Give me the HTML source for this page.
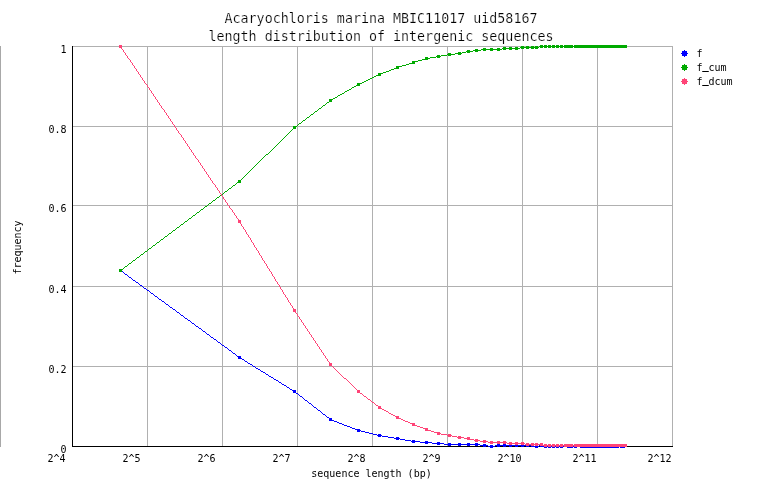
<!DOCTYPE html>
<html><head><meta charset="utf-8"><title>length distribution of intergenic sequences</title>
<style>html,body{margin:0;padding:0;background:#fff;}body{width:762px;height:498px;position:relative;overflow:hidden;}</style>
</head><body>
<svg width="762" height="498" viewBox="0 0 762 498" style="position:absolute;left:0;top:0;will-change:transform">
<rect width="762" height="498" fill="#fff"/>
<rect x="0" y="46" width="1" height="401" fill="#a8a8a8" shape-rendering="crispEdges"/>
<g fill="#b0b0b0" shape-rendering="crispEdges"><rect x="147" y="46" width="1" height="401"/><rect x="222" y="46" width="1" height="401"/><rect x="297" y="46" width="1" height="401"/><rect x="372" y="46" width="1" height="401"/><rect x="447" y="46" width="1" height="401"/><rect x="522" y="46" width="1" height="401"/><rect x="597" y="46" width="1" height="401"/><rect x="672" y="46" width="1" height="401"/><rect x="72" y="46" width="601" height="1"/><rect x="72" y="126" width="601" height="1"/><rect x="72" y="205" width="601" height="1"/><rect x="72" y="286" width="601" height="1"/><rect x="72" y="366" width="601" height="1"/></g>
<g fill="#000" shape-rendering="crispEdges"><rect x="72" y="46" width="1" height="401"/><rect x="72" y="446" width="601" height="1"/></g>
<path d="M119 269h3v2h-3zM119 271h4v1h-4zM123 272h1v1h-1zM124 273h1v1h-1zM125 274h2v1h-2zM127 275h1v1h-1zM128 276h1v1h-1zM129 277h2v1h-2zM131 278h1v1h-1zM132 279h1v1h-1zM133 280h2v1h-2zM135 281h1v1h-1zM136 282h2v1h-2zM138 283h1v1h-1zM139 284h1v1h-1zM140 285h2v1h-2zM142 286h1v1h-1zM143 287h1v1h-1zM144 288h2v1h-2zM146 289h1v1h-1zM147 290h2v1h-2zM149 291h1v1h-1zM150 292h1v1h-1zM151 293h2v1h-2zM153 294h1v1h-1zM154 295h1v1h-1zM155 296h2v1h-2zM157 297h1v1h-1zM158 298h1v1h-1zM159 299h2v1h-2zM161 300h1v1h-1zM162 301h2v1h-2zM164 302h1v1h-1zM165 303h1v1h-1zM166 304h2v1h-2zM168 305h1v1h-1zM169 306h1v1h-1zM170 307h2v1h-2zM172 308h1v1h-1zM173 309h2v1h-2zM175 310h1v1h-1zM176 311h1v1h-1zM177 312h2v1h-2zM179 313h1v1h-1zM180 314h1v1h-1zM181 315h2v1h-2zM183 316h1v1h-1zM184 317h1v1h-1zM185 318h2v1h-2zM187 319h1v1h-1zM188 320h2v1h-2zM190 321h1v1h-1zM191 322h1v1h-1zM192 323h2v1h-2zM194 324h1v1h-1zM195 325h1v1h-1zM196 326h2v1h-2zM198 327h1v1h-1zM199 328h2v1h-2zM201 329h1v1h-1zM202 330h1v1h-1zM203 331h2v1h-2zM205 332h1v1h-1zM206 333h1v1h-1zM207 334h2v1h-2zM209 335h1v1h-1zM210 336h1v1h-1zM211 337h2v1h-2zM213 338h1v1h-1zM214 339h2v1h-2zM216 340h1v1h-1zM217 341h1v1h-1zM218 342h2v1h-2zM220 343h1v1h-1zM221 344h1v1h-1zM222 345h2v1h-2zM224 346h1v1h-1zM225 347h2v1h-2zM227 348h1v1h-1zM228 349h1v1h-1zM229 350h2v1h-2zM231 351h1v1h-1zM232 352h1v1h-1zM233 353h2v1h-2zM235 354h1v1h-1zM236 355h1v1h-1zM237 356h4v1h-4zM238 357h3v1h-3zM238 358h4v1h-4zM242 359h2v1h-2zM244 360h1v1h-1zM245 361h2v1h-2zM247 362h1v1h-1zM248 363h2v1h-2zM250 364h2v1h-2zM252 365h1v1h-1zM253 366h2v1h-2zM255 367h1v1h-1zM256 368h2v1h-2zM258 369h2v1h-2zM260 370h1v1h-1zM261 371h2v1h-2zM263 372h2v1h-2zM265 373h1v1h-1zM266 374h2v1h-2zM268 375h1v1h-1zM269 376h2v1h-2zM271 377h2v1h-2zM273 378h1v1h-1zM274 379h2v1h-2zM276 380h2v1h-2zM278 381h1v1h-1zM279 382h2v1h-2zM281 383h1v1h-1zM282 384h2v1h-2zM284 385h2v1h-2zM286 386h1v1h-1zM287 387h2v1h-2zM289 388h1v1h-1zM290 389h2v1h-2zM292 390h4v1h-4zM293 391h3v2h-3zM296 393h2v1h-2zM298 394h1v1h-1zM299 395h1v1h-1zM300 396h2v1h-2zM302 397h1v1h-1zM303 398h1v1h-1zM304 399h1v1h-1zM305 400h2v1h-2zM307 401h1v1h-1zM308 402h1v1h-1zM309 403h2v1h-2zM311 404h1v1h-1zM312 405h1v1h-1zM313 406h1v1h-1zM314 407h2v1h-2zM316 408h1v1h-1zM317 409h1v1h-1zM318 410h2v1h-2zM320 411h1v1h-1zM321 412h1v1h-1zM322 413h1v1h-1zM323 414h2v1h-2zM325 415h1v1h-1zM326 416h1v1h-1zM327 417h2v1h-2zM329 418h3v2h-3zM329 420h5v1h-5zM334 421h3v1h-3zM337 422h2v1h-2zM339 423h3v1h-3zM342 424h2v1h-2zM344 425h3v1h-3zM347 426h3v1h-3zM350 427h2v1h-2zM352 428h3v1h-3zM355 429h5v1h-5zM357 431h3v1h-3zM357 430h4v1h-4zM361 431h4v1h-4zM365 432h4v1h-4zM369 433h4v1h-4zM373 434h4v1h-4zM377 435h5v1h-5zM378 434h3v1h-3zM378 436h3v1h-3zM382 436h6v1h-6zM388 437h6v1h-6zM394 438h6v1h-6zM396 437h3v1h-3zM396 439h3v1h-3zM400 439h5v1h-5zM405 440h6v1h-6zM411 441h9v1h-9zM412 440h3v1h-3zM412 442h3v1h-3zM420 442h12v1h-12zM425 441h3v1h-3zM425 443h3v1h-3zM432 443h12v1h-12zM437 442h3v1h-3zM437 444h3v1h-3zM444 444h36v1h-36zM448 443h3v1h-3zM448 445h3v1h-3zM458 443h3v1h-3zM458 445h3v1h-3zM467 443h3v1h-3zM467 445h3v1h-3zM475 443h3v1h-3zM475 445h3v1h-3zM480 445h8v1h-8zM483 444h3v1h-3zM483 446h3v1h-3zM488 446h7v1h-7zM490 445h3v1h-3zM490 447h3v1h-3zM495 445h39v1h-39zM497 444h3v1h-3zM497 446h3v1h-3zM503 444h3v1h-3zM503 446h3v1h-3zM509 444h3v1h-3zM509 446h3v1h-3zM515 444h3v1h-3zM515 446h3v1h-3zM521 444h3v1h-3zM521 446h3v1h-3zM526 444h3v1h-3zM526 446h3v1h-3zM531 444h3v1h-3zM531 446h8v1h-8zM535 445h3v1h-3zM535 447h3v1h-3zM539 445h4v1h-4zM540 444h3v1h-3zM540 446h87v1h-87zM544 445h3v1h-3zM544 447h3v1h-3zM548 445h3v1h-3zM548 447h3v1h-3zM552 445h3v1h-3zM552 447h3v1h-3zM556 445h3v1h-3zM556 447h3v1h-3zM560 445h3v1h-3zM560 447h3v1h-3zM564 444h3v1h-3zM564 445h9v1h-9zM567 447h6v1h-6zM574 447h3v1h-3zM574 445h53v1h-53zM577 444h3v1h-3zM580 447h39v1h-39zM618 444h3v1h-3zM620 447h5v1h-5zM624 444h3v1h-3z" fill="#0000ff" shape-rendering="crispEdges"/>

<path d="M119 270h3v2h-3zM119 269h4v1h-4zM123 268h1v1h-1zM124 267h1v1h-1zM125 266h2v1h-2zM127 265h1v1h-1zM128 264h1v1h-1zM129 263h2v1h-2zM131 262h1v1h-1zM132 261h1v1h-1zM133 260h2v1h-2zM135 259h1v1h-1zM136 258h1v1h-1zM137 257h2v1h-2zM139 256h1v1h-1zM140 255h1v1h-1zM141 254h2v1h-2zM143 253h1v1h-1zM144 252h1v1h-1zM145 251h2v1h-2zM147 250h1v1h-1zM148 249h1v1h-1zM149 248h2v1h-2zM151 247h1v1h-1zM152 246h1v1h-1zM153 245h2v1h-2zM155 244h1v1h-1zM156 243h1v1h-1zM157 242h2v1h-2zM159 241h1v1h-1zM160 240h1v1h-1zM161 239h2v1h-2zM163 238h1v1h-1zM164 237h1v1h-1zM165 236h2v1h-2zM167 235h1v1h-1zM168 234h1v1h-1zM169 233h2v1h-2zM171 232h1v1h-1zM172 231h1v1h-1zM173 230h2v1h-2zM175 229h1v1h-1zM176 228h1v1h-1zM177 227h2v1h-2zM179 226h1v1h-1zM180 225h1v1h-1zM181 224h2v1h-2zM183 223h1v1h-1zM184 222h1v1h-1zM185 221h2v1h-2zM187 220h1v1h-1zM188 219h1v1h-1zM189 218h2v1h-2zM191 217h1v1h-1zM192 216h1v1h-1zM193 215h2v1h-2zM195 214h1v1h-1zM196 213h1v1h-1zM197 212h2v1h-2zM199 211h1v1h-1zM200 210h1v1h-1zM201 209h2v1h-2zM203 208h1v1h-1zM204 207h1v1h-1zM205 206h2v1h-2zM207 205h1v1h-1zM208 204h1v1h-1zM209 203h2v1h-2zM211 202h1v1h-1zM212 201h1v1h-1zM213 200h2v1h-2zM215 199h1v1h-1zM216 198h1v1h-1zM217 197h2v1h-2zM219 196h1v1h-1zM220 195h1v1h-1zM221 194h2v1h-2zM223 193h1v1h-1zM224 192h1v1h-1zM225 191h2v1h-2zM227 190h1v1h-1zM228 189h1v1h-1zM229 188h2v1h-2zM231 187h1v1h-1zM232 186h1v1h-1zM233 185h2v1h-2zM235 184h1v1h-1zM236 183h1v1h-1zM237 182h4v1h-4zM238 180h3v2h-3zM241 179h1v1h-1zM242 178h1v1h-1zM243 177h1v1h-1zM244 176h1v1h-1zM245 175h1v1h-1zM246 174h1v1h-1zM247 173h1v1h-1zM248 172h1v1h-1zM249 171h1v1h-1zM250 170h1v1h-1zM251 169h1v1h-1zM252 168h1v1h-1zM253 167h1v1h-1zM254 166h1v1h-1zM255 165h1v1h-1zM256 164h1v1h-1zM257 163h1v1h-1zM258 162h1v1h-1zM259 161h1v1h-1zM260 160h1v1h-1zM261 159h1v1h-1zM262 158h1v1h-1zM263 157h1v1h-1zM264 156h1v1h-1zM265 155h1v1h-1zM266 154h2v1h-2zM268 153h1v1h-1zM269 152h1v1h-1zM270 151h1v1h-1zM271 150h1v1h-1zM272 149h1v1h-1zM273 148h1v1h-1zM274 147h1v1h-1zM275 146h1v1h-1zM276 145h1v1h-1zM277 144h1v1h-1zM278 143h1v1h-1zM279 142h1v1h-1zM280 141h1v1h-1zM281 140h1v1h-1zM282 139h1v1h-1zM283 138h1v1h-1zM284 137h1v1h-1zM285 136h1v1h-1zM286 135h1v1h-1zM287 134h1v1h-1zM288 133h1v1h-1zM289 132h1v1h-1zM290 131h1v1h-1zM291 130h1v1h-1zM292 129h1v1h-1zM293 127h3v2h-3zM293 126h4v1h-4zM297 125h1v1h-1zM298 124h1v1h-1zM299 123h2v1h-2zM301 122h1v1h-1zM302 121h1v1h-1zM303 120h2v1h-2zM305 119h1v1h-1zM306 118h1v1h-1zM307 117h2v1h-2zM309 116h1v1h-1zM310 115h1v1h-1zM311 114h2v1h-2zM313 113h1v1h-1zM314 112h1v1h-1zM315 111h2v1h-2zM317 110h1v1h-1zM318 109h1v1h-1zM319 108h2v1h-2zM321 107h1v1h-1zM322 106h1v1h-1zM323 105h2v1h-2zM325 104h1v1h-1zM326 103h1v1h-1zM327 102h2v1h-2zM329 100h3v2h-3zM329 99h4v1h-4zM333 98h2v1h-2zM335 97h2v1h-2zM337 96h1v1h-1zM338 95h2v1h-2zM340 94h2v1h-2zM342 93h2v1h-2zM344 92h1v1h-1zM345 91h2v1h-2zM347 90h2v1h-2zM349 89h2v1h-2zM351 88h1v1h-1zM352 87h2v1h-2zM354 86h2v1h-2zM356 85h4v1h-4zM357 84h3v1h-3zM357 83h5v1h-5zM362 82h2v1h-2zM364 81h2v1h-2zM366 80h2v1h-2zM368 79h2v1h-2zM370 78h2v1h-2zM372 77h2v1h-2zM374 76h2v1h-2zM376 75h5v1h-5zM378 74h3v1h-3zM378 73h5v1h-5zM383 72h3v1h-3zM386 71h3v1h-3zM389 70h2v1h-2zM391 69h3v1h-3zM394 68h5v1h-5zM396 67h3v1h-3zM396 66h6v1h-6zM402 65h4v1h-4zM406 64h3v1h-3zM409 63h6v1h-6zM412 62h3v1h-3zM412 61h6v1h-6zM418 60h4v1h-4zM422 59h6v1h-6zM425 57h3v1h-3zM425 58h5v1h-5zM430 57h6v1h-6zM436 56h5v1h-5zM437 55h3v1h-3zM437 57h3v1h-3zM441 55h6v1h-6zM447 54h8v1h-8zM448 53h3v1h-3zM448 55h3v1h-3zM455 53h7v1h-7zM458 52h3v1h-3zM458 54h3v1h-3zM462 52h4v1h-4zM466 51h7v1h-7zM467 50h3v1h-3zM467 52h3v1h-3zM473 50h8v1h-8zM475 49h3v1h-3zM475 51h3v1h-3zM481 49h21v1h-21zM483 48h3v1h-3zM483 50h3v1h-3zM490 48h3v1h-3zM490 50h3v1h-3zM497 48h3v1h-3zM497 50h3v1h-3zM502 48h18v1h-18zM503 47h3v1h-3zM503 49h3v1h-3zM509 47h3v1h-3zM509 49h3v1h-3zM515 47h3v1h-3zM515 49h3v1h-3zM520 47h19v1h-19zM521 46h3v1h-3zM521 48h3v1h-3zM526 46h3v1h-3zM526 48h3v1h-3zM531 46h3v1h-3zM531 48h3v1h-3zM535 46h3v1h-3zM535 48h3v1h-3zM539 46h88v1h-88zM540 45h3v1h-3zM540 47h3v1h-3zM544 45h3v1h-3zM544 47h3v1h-3zM548 45h3v1h-3zM548 47h3v1h-3zM552 45h3v1h-3zM552 47h3v1h-3zM556 45h3v1h-3zM556 47h3v1h-3zM560 45h3v1h-3zM560 47h3v1h-3zM564 45h9v1h-9zM564 47h9v1h-9zM574 45h53v1h-53zM574 47h53v1h-53z" fill="#00aa00" shape-rendering="crispEdges"/>

<path d="M119 45h3v3h-3zM121 48h1v1h-1zM122 49h1v1h-1zM123 50h1v2h-1zM124 52h1v1h-1zM125 53h1v2h-1zM126 55h1v1h-1zM127 56h1v2h-1zM128 58h1v1h-1zM129 59h1v1h-1zM130 60h1v2h-1zM131 62h1v1h-1zM132 63h1v2h-1zM133 65h1v1h-1zM134 66h1v2h-1zM135 68h1v1h-1zM136 69h1v2h-1zM137 71h1v1h-1zM138 72h1v2h-1zM139 74h1v1h-1zM140 75h1v2h-1zM141 77h1v1h-1zM142 78h1v2h-1zM143 80h1v1h-1zM144 81h1v2h-1zM145 83h1v1h-1zM146 84h1v1h-1zM147 85h1v2h-1zM148 87h1v1h-1zM149 88h1v2h-1zM150 90h1v1h-1zM151 91h1v2h-1zM152 93h1v1h-1zM153 94h1v2h-1zM154 96h1v1h-1zM155 97h1v2h-1zM156 99h1v1h-1zM157 100h1v2h-1zM158 102h1v1h-1zM159 103h1v2h-1zM160 105h1v1h-1zM161 106h1v2h-1zM162 108h1v1h-1zM163 109h1v1h-1zM164 110h1v2h-1zM165 112h1v1h-1zM166 113h1v2h-1zM167 115h1v1h-1zM168 116h1v2h-1zM169 118h1v1h-1zM170 119h1v2h-1zM171 121h1v1h-1zM172 122h1v2h-1zM173 124h1v1h-1zM174 125h1v2h-1zM175 127h1v1h-1zM176 128h1v2h-1zM177 130h1v1h-1zM178 131h1v2h-1zM179 133h1v1h-1zM180 134h1v1h-1zM181 135h1v2h-1zM182 137h1v1h-1zM183 138h1v2h-1zM184 140h1v1h-1zM185 141h1v2h-1zM186 143h1v1h-1zM187 144h1v2h-1zM188 146h1v1h-1zM189 147h1v2h-1zM190 149h1v1h-1zM191 150h1v2h-1zM192 152h1v1h-1zM193 153h1v2h-1zM194 155h1v1h-1zM195 156h1v2h-1zM196 158h1v1h-1zM197 159h1v1h-1zM198 160h1v2h-1zM199 162h1v1h-1zM200 163h1v2h-1zM201 165h1v1h-1zM202 166h1v2h-1zM203 168h1v1h-1zM204 169h1v2h-1zM205 171h1v1h-1zM206 172h1v2h-1zM207 174h1v1h-1zM208 175h1v2h-1zM209 177h1v1h-1zM210 178h1v2h-1zM211 180h1v1h-1zM212 181h1v2h-1zM213 183h1v1h-1zM214 184h1v1h-1zM215 185h1v2h-1zM216 187h1v1h-1zM217 188h1v2h-1zM218 190h1v1h-1zM219 191h1v2h-1zM220 193h1v1h-1zM221 194h1v2h-1zM222 196h1v1h-1zM223 197h1v2h-1zM224 199h1v1h-1zM225 200h1v2h-1zM226 202h1v1h-1zM227 203h1v2h-1zM228 205h1v1h-1zM229 206h1v2h-1zM230 208h1v1h-1zM231 209h1v1h-1zM232 210h1v2h-1zM233 212h1v1h-1zM234 213h1v2h-1zM235 215h1v1h-1zM236 216h1v2h-1zM237 218h1v1h-1zM238 219h1v1h-1zM238 220h3v3h-3zM240 223h1v1h-1zM241 224h1v2h-1zM242 226h1v1h-1zM243 227h1v2h-1zM244 229h1v1h-1zM245 230h1v2h-1zM246 232h1v2h-1zM247 234h1v1h-1zM248 235h1v2h-1zM249 237h1v1h-1zM250 238h1v2h-1zM251 240h1v2h-1zM252 242h1v1h-1zM253 243h1v2h-1zM254 245h1v2h-1zM255 247h1v1h-1zM256 248h1v2h-1zM257 250h1v1h-1zM258 251h1v2h-1zM259 253h1v2h-1zM260 255h1v1h-1zM261 256h1v2h-1zM262 258h1v2h-1zM263 260h1v1h-1zM264 261h1v2h-1zM265 263h1v1h-1zM266 264h1v2h-1zM267 266h1v2h-1zM268 268h1v1h-1zM269 269h1v2h-1zM270 271h1v1h-1zM271 272h1v2h-1zM272 274h1v2h-1zM273 276h1v1h-1zM274 277h1v2h-1zM275 279h1v2h-1zM276 281h1v1h-1zM277 282h1v2h-1zM278 284h1v1h-1zM279 285h1v2h-1zM280 287h1v2h-1zM281 289h1v1h-1zM282 290h1v2h-1zM283 292h1v2h-1zM284 294h1v1h-1zM285 295h1v2h-1zM286 297h1v1h-1zM287 298h1v2h-1zM288 300h1v2h-1zM289 302h1v1h-1zM290 303h1v2h-1zM291 305h1v1h-1zM292 306h1v2h-1zM293 308h1v1h-1zM293 309h3v3h-3zM295 312h1v1h-1zM296 313h1v1h-1zM297 314h1v2h-1zM298 316h1v1h-1zM299 317h1v2h-1zM300 319h1v1h-1zM301 320h1v2h-1zM302 322h1v1h-1zM303 323h1v2h-1zM304 325h1v1h-1zM305 326h1v2h-1zM306 328h1v1h-1zM307 329h1v2h-1zM308 331h1v1h-1zM309 332h1v2h-1zM310 334h1v1h-1zM311 335h1v2h-1zM312 337h1v1h-1zM313 338h1v2h-1zM314 340h1v1h-1zM315 341h1v2h-1zM316 343h1v1h-1zM317 344h1v2h-1zM318 346h1v1h-1zM319 347h1v2h-1zM320 349h1v1h-1zM321 350h1v2h-1zM322 352h1v1h-1zM323 353h1v2h-1zM324 355h1v1h-1zM325 356h1v2h-1zM326 358h1v1h-1zM327 359h1v2h-1zM328 361h1v1h-1zM329 362h1v1h-1zM329 363h3v3h-3zM332 366h1v1h-1zM333 367h1v1h-1zM334 368h1v1h-1zM335 369h1v1h-1zM336 370h1v1h-1zM337 371h1v1h-1zM338 372h1v1h-1zM339 373h1v1h-1zM340 374h1v1h-1zM341 375h1v1h-1zM342 376h1v1h-1zM343 377h1v1h-1zM344 378h2v1h-2zM346 379h1v1h-1zM347 380h1v1h-1zM348 381h1v1h-1zM349 382h1v1h-1zM350 383h1v1h-1zM351 384h1v1h-1zM352 385h1v1h-1zM353 386h1v1h-1zM354 387h1v1h-1zM355 388h1v1h-1zM356 389h1v1h-1zM357 390h3v3h-3zM360 393h2v1h-2zM362 394h1v1h-1zM363 395h1v1h-1zM364 396h2v1h-2zM366 397h1v1h-1zM367 398h1v1h-1zM368 399h2v1h-2zM370 400h1v1h-1zM371 401h1v1h-1zM372 402h2v1h-2zM374 403h1v1h-1zM375 404h1v1h-1zM376 405h2v1h-2zM378 406h3v2h-3zM378 408h4v1h-4zM382 409h2v1h-2zM384 410h2v1h-2zM386 411h2v1h-2zM388 412h1v1h-1zM389 413h2v1h-2zM391 414h2v1h-2zM393 415h2v1h-2zM395 416h4v1h-4zM396 417h3v1h-3zM396 418h5v1h-5zM401 419h2v1h-2zM403 420h2v1h-2zM405 421h3v1h-3zM408 422h2v1h-2zM410 423h5v1h-5zM412 424h3v1h-3zM412 425h5v1h-5zM417 426h3v1h-3zM420 427h3v1h-3zM423 428h5v1h-5zM425 429h3v1h-3zM425 430h6v1h-6zM431 431h3v1h-3zM434 432h6v1h-6zM437 434h3v1h-3zM437 433h4v1h-4zM441 434h6v1h-6zM447 435h5v1h-5zM448 434h3v1h-3zM448 436h3v1h-3zM452 436h5v1h-5zM457 437h7v1h-7zM458 436h3v1h-3zM458 438h3v1h-3zM464 438h6v1h-6zM467 437h3v1h-3zM467 439h7v1h-7zM474 440h6v1h-6zM475 439h3v1h-3zM475 441h3v1h-3zM480 441h8v1h-8zM483 440h3v1h-3zM483 442h3v1h-3zM488 442h19v1h-19zM490 441h3v1h-3zM490 443h3v1h-3zM497 441h3v1h-3zM497 443h3v1h-3zM503 441h3v1h-3zM503 443h3v1h-3zM507 443h18v1h-18zM509 442h3v1h-3zM509 444h3v1h-3zM515 442h3v1h-3zM515 444h3v1h-3zM521 442h3v1h-3zM521 444h3v1h-3zM525 444h18v1h-18zM526 443h3v1h-3zM526 445h3v1h-3zM531 443h3v1h-3zM531 445h3v1h-3zM535 443h3v1h-3zM535 445h3v1h-3zM540 443h3v1h-3zM540 445h87v1h-87zM544 444h3v1h-3zM544 446h3v1h-3zM548 444h3v1h-3zM548 446h3v1h-3zM552 444h3v1h-3zM552 446h3v1h-3zM556 444h3v1h-3zM556 446h3v1h-3zM560 444h3v1h-3zM560 446h3v1h-3zM564 444h9v1h-9zM564 446h9v1h-9zM574 444h53v1h-53zM574 446h53v1h-53z" fill="#ff4477" shape-rendering="crispEdges"/>

<g fill="#0000ff" shape-rendering="crispEdges"><rect x="682" y="51" width="5" height="5"/><rect x="684" y="50" width="1" height="7"/><rect x="681" y="53" width="7" height="1"/></g>
<g fill="#00aa00" shape-rendering="crispEdges"><rect x="682" y="65" width="5" height="5"/><rect x="684" y="64" width="1" height="7"/><rect x="681" y="67" width="7" height="1"/></g>
<g fill="#ff4477" shape-rendering="crispEdges"><rect x="682" y="79" width="5" height="5"/><rect x="684" y="78" width="1" height="7"/><rect x="681" y="81" width="7" height="1"/></g>
<g font-family="'DejaVu Sans Mono', monospace" fill="#000">
<text x="381" y="23" font-size="13.33" text-anchor="middle" stroke="#fff" stroke-width="0.2" xml:space="preserve">Acaryochloris marina MBIC11017 uid58167</text>
<text x="381" y="41" font-size="13.33" text-anchor="middle" stroke="#fff" stroke-width="0.2" xml:space="preserve">length distribution of intergenic sequences</text>
<text x="66.5" y="53" font-size="10" text-anchor="end">1</text>
<text x="66.5" y="133" font-size="10" text-anchor="end">0.8</text>
<text x="66.5" y="212" font-size="10" text-anchor="end">0.6</text>
<text x="66.5" y="293" font-size="10" text-anchor="end">0.4</text>
<text x="66.5" y="373" font-size="10" text-anchor="end">0.2</text>
<text x="66.5" y="453" font-size="10" text-anchor="end">0</text>
<text x="47.5" y="462" font-size="10">2^4</text>
<text x="122.5" y="462" font-size="10">2^5</text>
<text x="197.5" y="462" font-size="10">2^6</text>
<text x="272.5" y="462" font-size="10">2^7</text>
<text x="347.5" y="462" font-size="10">2^8</text>
<text x="422.5" y="462" font-size="10">2^9</text>
<text x="497.5" y="462" font-size="10">2^10</text>
<text x="572.5" y="462" font-size="10">2^11</text>
<text x="647.5" y="462" font-size="10">2^12</text>
<text x="371.5" y="477" font-size="10" text-anchor="middle">sequence length (bp)</text>
<text transform="translate(21,247.5) rotate(-90)" font-size="10" text-anchor="middle">frequency</text>
<text x="696.5" y="56.8" font-size="10">f</text>
<text x="696.5" y="70.8" font-size="10">f<tspan dy="-2" stroke="#000" stroke-width="0.4">_</tspan><tspan dy="2">cum</tspan></text>
<text x="696.5" y="84.8" font-size="10">f<tspan dy="-2" stroke="#000" stroke-width="0.4">_</tspan><tspan dy="2">dcum</tspan></text>
</g>
</svg>
</body></html>
